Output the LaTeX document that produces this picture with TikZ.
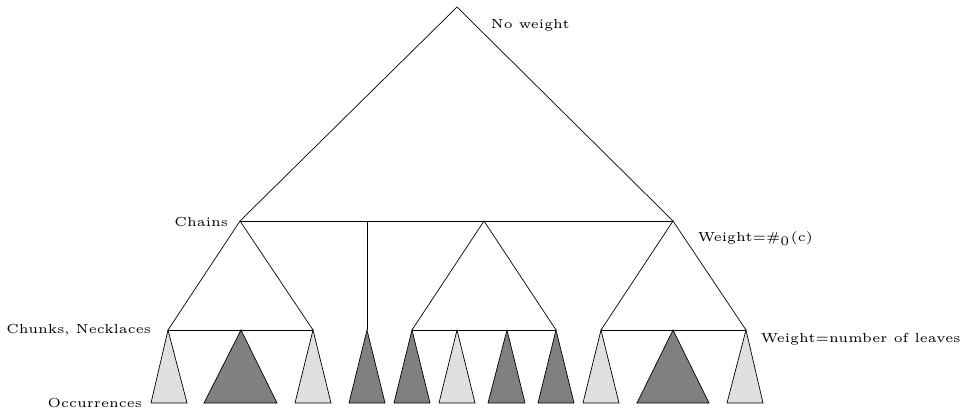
\documentclass[tikz,border=0pt]{standalone}
\begin{document}
\begin{tikzpicture}[x=1pt,y=-1pt,line width=0.7pt,
  lbl/.style={font=\tiny,inner sep=0pt,scale=2.62,transform shape},
  light/.style={draw=black,fill=black!12},
  dark/.style={draw=black,fill=black!50}]
\useasboundingbox (0,0) rectangle (964,410);
% main coordinates
\coordinate (top) at (457,7);
\coordinate (cL) at (240,221);
\coordinate (cV) at (367,221);
\coordinate (cM) at (484,221);
\coordinate (cR) at (673,221);
\coordinate (k1) at (168,330);
\coordinate (k2) at (241,330);
\coordinate (k3) at (313,330);
\coordinate (k4) at (367,330);
\coordinate (k5) at (412,330);
\coordinate (k6) at (457,330);
\coordinate (k7) at (507,330);
\coordinate (k8) at (556,330);
\coordinate (k9) at (601,330);
\coordinate (k10) at (673,330);
\coordinate (k11) at (746,330);
% top triangle
\draw (cL) -- (top) -- (cR);
\draw (cL) -- (cR);
% subtrees
\draw (k1) -- (cL) -- (k3);
\draw (cV) -- (k4);
\draw (k5) -- (cM) -- (k8);
\draw (k9) -- (cR) -- (k11);
\draw (k1) -- (k3);
\draw (k5) -- (k8);
\draw (k9) -- (k11);
% occurrences
\def\by{403}
\draw[light] (k1) -- (151,\by) -- (187,\by) -- cycle;
\draw[dark]  (k2) -- (204,\by) -- (277,\by) -- cycle;
\draw[light] (k3) -- (295,\by) -- (331,\by) -- cycle;
\draw[dark]  (k4) -- (349,\by) -- (385,\by) -- cycle;
\draw[dark]  (k5) -- (394,\by) -- (430,\by) -- cycle;
\draw[light] (k6) -- (439,\by) -- (475,\by) -- cycle;
\draw[dark]  (k7) -- (488,\by) -- (525,\by) -- cycle;
\draw[dark]  (k8) -- (538,\by) -- (574,\by) -- cycle;
\draw[light] (k9) -- (583,\by) -- (619,\by) -- cycle;
\draw[dark]  (k10) -- (637,\by) -- (709,\by) -- cycle;
\draw[light] (k11) -- (727,\by) -- (763,\by) -- cycle;
% labels
\node[lbl,anchor=west] (tNo) at (490,25) {No weight};
\node[lbl,anchor=east] (tCh) at (229,222) {Chains};
\node[lbl,anchor=west] (tW0) at (697,239) {Weight=\#$_0$(c)};
\node[lbl,anchor=east] (tCN) at (152,330) {Chunks, Necklaces};
\node[lbl,anchor=west] (tWL) at (760,339) {Weight=number of leaves};
\node[lbl,anchor=east] (tOc) at (143,403) {Occurrences};
\end{tikzpicture}
\end{document}
